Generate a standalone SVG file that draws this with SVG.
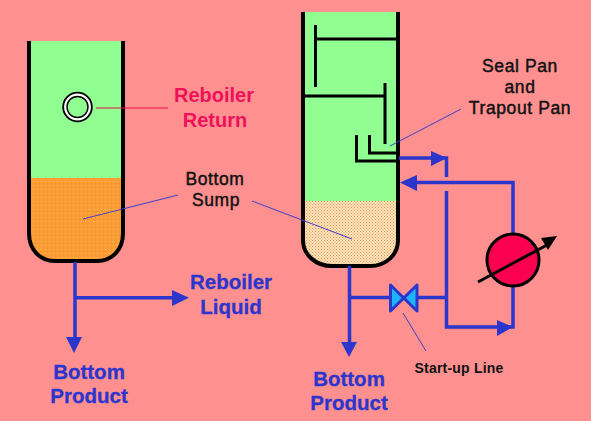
<svg xmlns="http://www.w3.org/2000/svg" width="591" height="421" viewBox="0 0 591 421">
<style>
.v{fill:none;stroke:#000;stroke-width:4;stroke-linejoin:round}
.b{fill:none;stroke:#000;stroke-width:3}
.p{fill:none;stroke:#2c35cc;stroke-width:3.5}
.h{fill:#2c35cc}
.l{fill:none;stroke:#3f3fc8;stroke-width:1}
text{font-family:"Liberation Sans",Arial,sans-serif;text-anchor:middle}
.bl{font-size:20.5px;font-weight:bold;fill:#2c35cc;stroke:#2c35cc;stroke-width:.3}
.k{font-size:17.5px;fill:#111;letter-spacing:.6px;stroke:#111;stroke-width:.45}
</style>
<defs>
<pattern id="or" width="4" height="4" patternUnits="userSpaceOnUse"><rect width="4" height="4" fill="#ff9a30"/><rect x="1" y="1" width="1" height="1" fill="#ffd9a0"/></pattern>
<pattern id="cr" width="3" height="3" patternUnits="userSpaceOnUse"><rect width="3" height="3" fill="#ffe6bc"/><rect x="0" y="0" width="1" height="1" fill="#e09050"/><rect x="1.5" y="1.5" width="1" height="1" fill="#e09050"/></pattern>
</defs>
<rect width="591" height="421" fill="#fe9090"/>
<g id="left-column">
<path d="M29 41V233C29 250 40 261 55 261H97C112 261 123 250 123 233V41Z" fill="#90fe90"/>
<path d="M29 178V233C29 250 40 261 55 261H97C112 261 123 250 123 233V178Z" fill="url(#or)"/>
<path class="v" d="M29 41V233C29 250 40 261 55 261H97C112 261 123 250 123 233V41"/>
<circle cx="77.5" cy="107" r="12.5" fill="#90fe90" stroke="#000" stroke-width="5.5"/>
<circle cx="77.5" cy="107" r="12.3" fill="none" stroke="#fff" stroke-width="2.2"/>
</g>
<g id="right-column">
<path d="M303 12V240C303 255 316 266 332 266H370C386 266 398 255 398 240V12Z" fill="#90fe90"/>
<path d="M303 201V240C303 255 316 266 332 266H370C386 266 398 255 398 240V201Z" fill="url(#cr)"/>
<path class="v" d="M303 12V240C303 255 316 266 332 266H370C386 266 398 255 398 240V12"/>
<path class="b" d="M315.5 25V87M315.5 39H398M303 96H385M385 83V144M356.5 135V161H398M369.5 135V153H398"/>
</g>
<g id="connectors">
<path class="p" d="M75 262V340M75 297.7H174"/>
<path class="h" d="M66 337H82L74 353ZM172 290V306L189 297.7Z"/>
<path class="p" d="M399 158H446.5V177M446.5 191V327H500M513 233V182.5H414M513 287V327H505M349.5 266V345M349.5 297.5H390M418 297.5H446"/>
<path class="h" d="M431 151V166L447 158ZM417 175V191L400 182.5ZM497 320V336L513 327ZM341 342H357L349 357Z"/>
<path d="M96 108H168" fill="none" stroke="#e8104f" stroke-width="1"/>
<path class="l" d="M83 219L178 195M252 201L352 239M461 109L390 146M403 313L426 351"/>
</g>
<g id="reboiler">
<circle cx="513" cy="260" r="26" fill="#fb0050" stroke="#000" stroke-width="3"/>
<path d="M478 282L547 245" fill="none" stroke="#000" stroke-width="3"/>
<path d="M541 238L557 236L548 250Z" fill="#000"/>
</g>
<g id="valve">
<path d="M390.5 285V311L417 285V311Z" fill="#1eb4fa" stroke="#2c35cc" stroke-width="3" stroke-linejoin="round"/>
</g>
<g id="labels">
<text x="214" y="102" font-size="20" font-weight="bold" fill="#f0105a">Reboiler</text>
<text x="215" y="127" font-size="20" font-weight="bold" fill="#f0105a">Return</text>
<text class="k" x="215" y="185">Bottom</text>
<text class="k" x="216" y="206">Sump</text>
<text class="k" x="520" y="72">Seal Pan</text>
<text class="k" x="520" y="93">and</text>
<text class="k" x="520" y="114">Trapout Pan</text>
<text class="bl" x="231" y="289">Reboiler</text>
<text class="bl" x="231" y="314">Liquid</text>
<text class="bl" x="89" y="379">Bottom</text>
<text class="bl" x="89" y="403">Product</text>
<text class="bl" x="349" y="386">Bottom</text>
<text class="bl" x="349" y="410">Product</text>
<text x="459" y="373" font-size="14" font-weight="bold" fill="#111" letter-spacing=".2">Start-up Line</text>
</g>
</svg>
